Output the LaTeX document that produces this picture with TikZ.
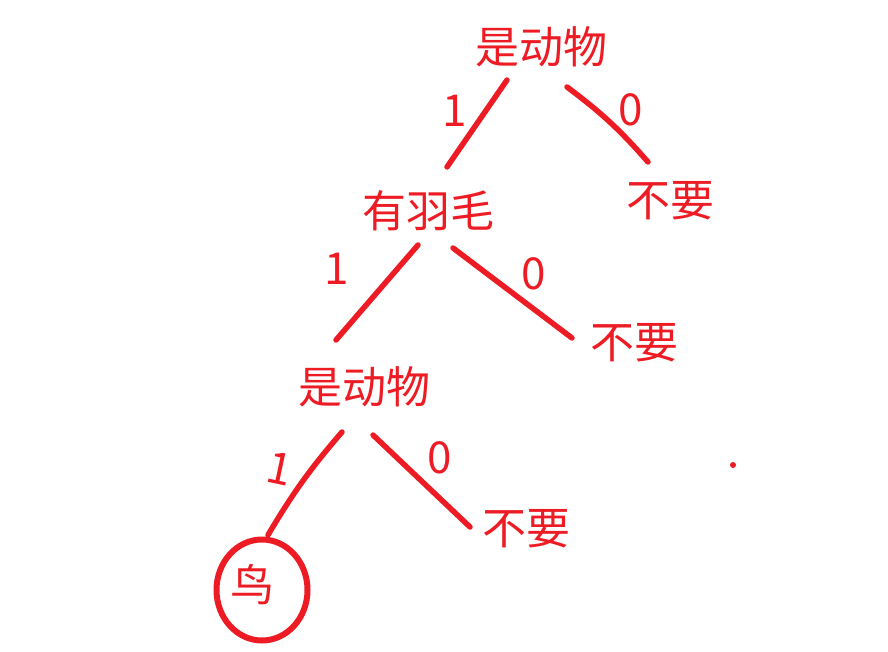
\documentclass[tikz,border=0pt]{standalone}
\usepackage{fontspec}
\newfontfamily\cjk{Noto Sans CJK SC}
\definecolor{paintred}{RGB}{237,28,36}

\begin{document}
\begin{tikzpicture}[
     x=1pt, y=-1pt,
     lbl/.style={text=paintred, font=\cjk\fontsize{44}{50}\selectfont, inner sep=0pt},
     digit/.style={text=paintred, font=\cjk\fontsize{44}{50}\selectfont, inner sep=0pt},
     edge/.style={draw=paintred, line width=5.5pt, line cap=round, line join=round}
   ]
   \useasboundingbox (0,0) rectangle (888,652);
   % Decision tree.
   \node[lbl] (r1) at (541,47) {是动物};
   \node[lbl] (no1) at (670,201) {不要};
   \node[lbl] (f1) at (428,211) {有羽毛};
   \node[lbl] (no2) at (634,343) {不要};
   \node[lbl] (r2) at (364,387) {是动物};
   \node[lbl] (no3) at (526,529) {不要};
   \node[lbl] (bird) at (252,585) {鸟};
   % Branches.
   \draw[edge] ([shift={(-34,33)}]r1.center) -- ([shift={(19,-44)}]f1.center);
   \draw[edge] ([shift={(26,40)}]r1.center) to[bend left=6] ([shift={(-22,-39)}]no1.center);
   \draw[edge] ([shift={(-10,34)}]f1.center) -- ([shift={(-28,-47)}]r2.center);
   \draw[edge] ([shift={(25,37)}]f1.center) -- ([shift={(-62,-5)}]no2.center);
   \draw[edge] ([shift={(-22,45)}]r2.center) to[bend right=5] ([shift={(16,-50)}]bird.center);
   \draw[edge] ([shift={(9,48)}]r2.center) -- ([shift={(-56,-2)}]no3.center);
   \draw[edge, line width=6pt] ([shift={(10,5)}]bird.center) ellipse [x radius=45.5pt, y radius=50.5pt];
   % Branch values.
   \node[digit] (d1) at (455,111) {1};
   \node[digit] (d0) at (631,110) {0};
   \node[digit] (e1) at (337,269) {1};
   \node[digit] (e0) at (534,274) {0};
   \node[digit, rotate=-12] (g1) at (280,469) {1};
   \node[digit] (g0) at (440,458) {0};
   \fill[paintred] (733,465) circle (3pt);
\end{tikzpicture}
\end{document}
